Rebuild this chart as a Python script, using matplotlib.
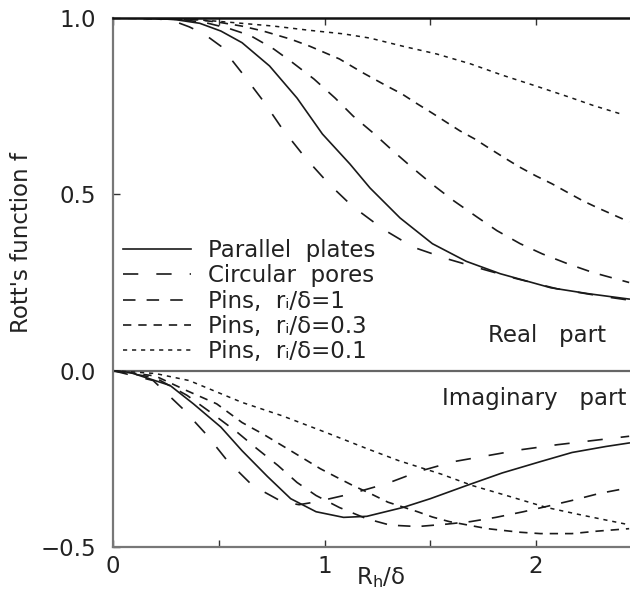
import matplotlib
matplotlib.use('Agg')
import matplotlib.pyplot as plt
from matplotlib.ticker import MultipleLocator, FixedLocator, FixedFormatter

plt.rcParams['font.family'] = ['DejaVu Sans']
plt.rcParams['lines.scale_dashes'] = False
plt.rcParams['axes.unicode_minus'] = True

# ---------------- data ----------------
labels = ["Parallel  plates", "Circular  pores",
          "Pins,  r\u1d62/δ=1", "Pins,  r\u1d62/δ=0.3",
          "Pins,  r\u1d62/δ=0.1"]

# Real parts
plates_re_x = [0.0, 0.2, 0.3, 0.41, 0.51, 0.61, 0.74, 0.87, 0.99, 1.12, 1.215, 1.357,
               1.51, 1.67, 1.83, 2.07, 2.25, 2.44]
plates_re_y = [1.0, 0.999, 0.995, 0.985, 0.963, 0.93, 0.864, 0.773, 0.671, 0.586, 0.518,
               0.433, 0.36, 0.31, 0.275, 0.235, 0.218, 0.203]

circ_re_x = [0.0, 0.2, 0.28, 0.36, 0.43, 0.51, 0.61, 0.71, 0.80, 0.91, 1.02, 1.13, 1.28,
             1.42, 1.58, 1.735, 1.9, 2.1, 2.3, 2.44]
circ_re_y = [1.0, 0.998, 0.993, 0.975, 0.955, 0.92, 0.844, 0.765, 0.686, 0.603, 0.53,
             0.467, 0.40, 0.35, 0.317, 0.29, 0.262, 0.232, 0.212, 0.2]

pins1_re_x = [0.0, 0.3, 0.45, 0.55, 0.65, 0.76, 0.85, 0.95, 1.05, 1.135, 1.23, 1.32, 1.41,
              1.51, 1.61, 1.72, 1.815, 1.925, 2.03, 2.15, 2.27, 2.44]
pins1_re_y = [1.0, 0.998, 0.985, 0.97, 0.95, 0.912, 0.873, 0.827, 0.773, 0.722, 0.674,
              0.625, 0.578, 0.528, 0.482, 0.436, 0.397, 0.36, 0.331, 0.303, 0.278, 0.25]

pins03_re_x = [0.0, 0.4, 0.5, 0.61, 0.71, 0.84, 0.93, 1.07, 1.18, 1.295, 1.365, 1.44,
               1.51, 1.58, 1.64, 1.71, 1.78, 1.86, 1.92, 2.0, 2.075, 2.15, 2.22, 2.29, 2.44]
pins03_re_y = [1.0, 0.995, 0.988, 0.977, 0.963, 0.94, 0.92, 0.884, 0.845, 0.807, 0.785,
               0.756, 0.73, 0.703, 0.68, 0.657, 0.63, 0.60, 0.578, 0.552, 0.53, 0.505,
               0.482, 0.462, 0.422]

pins01_re_x = [0.0, 0.3, 0.55, 0.76, 0.93, 1.09, 1.215, 1.37, 1.53, 1.69, 1.84, 2.0,
               2.16, 2.27, 2.40]
pins01_re_y = [1.0, 1.0, 0.988, 0.977, 0.965, 0.955, 0.943, 0.92, 0.898, 0.87, 0.838,
               0.807, 0.775, 0.752, 0.728]

# Imaginary parts
plates_im_x = [0.0, 0.08, 0.27, 0.38, 0.51, 0.61, 0.73, 0.84, 0.96, 1.09, 1.2, 1.37,
               1.5, 1.67, 1.84, 2.02, 2.17, 2.33, 2.44]
plates_im_y = [0.0, -0.005, -0.042, -0.094, -0.16, -0.227, -0.30, -0.363, -0.40, -0.416,
               -0.413, -0.388, -0.363, -0.326, -0.29, -0.258, -0.232, -0.215, -0.205]

circ_im_x = [0.0, 0.19, 0.33, 0.44, 0.54, 0.66, 0.80, 0.88, 0.96, 1.12, 1.295, 1.45,
             1.61, 1.77, 1.93, 2.10, 2.27, 2.44]
circ_im_y = [0.0, -0.028, -0.108, -0.18, -0.255, -0.326, -0.372, -0.38, -0.372, -0.35,
             -0.32, -0.285, -0.258, -0.241, -0.224, -0.21, -0.198, -0.186]

pins1_im_x = [0.0, 0.2, 0.35, 0.47, 0.59, 0.68, 0.78, 0.87, 0.96, 1.07, 1.2, 1.31, 1.44,
              1.58, 1.69, 1.81, 1.94, 2.05, 2.17, 2.30, 2.44]
pins1_im_y = [0.0, -0.02, -0.07, -0.122, -0.176, -0.221, -0.269, -0.317, -0.354, -0.388,
              -0.42, -0.438, -0.442, -0.435, -0.428, -0.416, -0.40, -0.385, -0.368,
              -0.348, -0.332]

pins03_im_x = [0.0, 0.2, 0.35, 0.49, 0.61, 0.71, 0.84, 0.98, 1.06, 1.135, 1.215, 1.30,
               1.44, 1.51, 1.59, 1.77, 1.92, 2.02, 2.17, 2.29, 2.44]
pins03_im_y = [0.0, -0.015, -0.057, -0.094, -0.147, -0.18, -0.227, -0.278, -0.303,
               -0.326, -0.348, -0.373, -0.40, -0.415, -0.428, -0.448, -0.458, -0.462,
               -0.462, -0.455, -0.448]

pins01_im_x = [0.0, 0.2, 0.36, 0.61, 0.80, 1.01, 1.2, 1.35, 1.55, 1.70, 1.86, 2.05,
               2.22, 2.44]
pins01_im_y = [0.0, -0.008, -0.028, -0.09, -0.128, -0.176, -0.221, -0.255, -0.293,
               -0.326, -0.354, -0.388, -0.41, -0.437]

x_ticks = [0, 1, 2]
x_ticklabels = ["0", "1", "2"]
y_ticks = [-0.5, 0.0, 0.5, 1.0]
y_ticklabels = ["\u22120.5", "0.0", "0.5", "1.0"]

# ---------------- styles ----------------
col = '#1a1a1a'
styles = [
    dict(ls='-', lw=1.2),
    dict(ls=(0, (11, 13)), lw=1.2),
    dict(ls=(0, (9, 8)), lw=1.2),
    dict(ls=(0, (6, 5)), lw=1.2),
    dict(ls=(0, (3, 3.5)), lw=1.1),
]

re_series = [(plates_re_x, plates_re_y), (circ_re_x, circ_re_y), (pins1_re_x, pins1_re_y),
             (pins03_re_x, pins03_re_y), (pins01_re_x, pins01_re_y)]
im_series = [(plates_im_x, plates_im_y), (circ_im_x, circ_im_y), (pins1_im_x, pins1_im_y),
             (pins03_im_x, pins03_im_y), (pins01_im_x, pins01_im_y)]

fig = plt.figure(figsize=(6.3, 5.96), dpi=100)
L, R, T, B = 113, 630, 18, 547
ax = fig.add_axes([L / 630, 1 - B / 596, (R - L) / 630, (B - T) / 596])
ax.set_xlim(0, 2.444)
ax.set_ylim(-0.5, 1.0)

handles = []
for (xs, ys), st, lab in zip(re_series, styles, labels):
    h, = ax.plot(xs, ys, color=col, label=lab, **st)
    handles.append(h)
for (xs, ys), st in zip(im_series, styles):
    ax.plot(xs, ys, color=col, **st)

ax.axhline(0, color='#666666', lw=1.6, zorder=1)

for s in ['left', 'bottom']:
    ax.spines[s].set_color('#777777')
    ax.spines[s].set_linewidth(1.6)
ax.spines['top'].set_color('#111111')
ax.spines['top'].set_linewidth(1.8)
ax.spines['right'].set_visible(False)

ax.xaxis.set_major_locator(FixedLocator(x_ticks))
ax.xaxis.set_major_formatter(FixedFormatter(x_ticklabels))
ax.xaxis.set_minor_locator(MultipleLocator(0.5))
ax.yaxis.set_major_locator(FixedLocator(y_ticks))
ax.yaxis.set_major_formatter(FixedFormatter(y_ticklabels))
ax.tick_params(which='both', direction='in', top=True, right=False, length=5,
               width=1.0, color='#333333')
ax.tick_params(axis='both', which='major', labelsize=16.5, labelcolor='#222222')
ax.tick_params(axis='x', which='major', pad=6)
ax.tick_params(axis='y', which='major', pad=12)

fs_leg = 16.5
leg = ax.legend(handles=handles, loc='upper left',
                bbox_to_anchor=((123 - L) / (R - L), (B - 239) / (B - T)),
                frameon=False, fontsize=fs_leg, borderpad=0, borderaxespad=0,
                handlelength=2.95, handletextpad=0.75, labelspacing=0.1)
for t in leg.get_texts():
    t.set_color('#222222')

ax.text(2.05, 0.099, 'Real   part', fontsize=16.5, ha='center', va='center',
        color='#222222')
ax.text(2.425, -0.079, 'Imaginary   part', fontsize=16.5, ha='right', va='center',
        color='#222222')

fig.text(381 / 630, 1 - 578 / 596, 'R$_\\mathrm{h}$/δ', fontsize=16.5, ha='center',
         va='center', color='#222222')
fig.text(22 / 630, 1 - 243 / 596, "Rott's function f", fontsize=16.5, rotation=90,
         ha='center', va='center', color='#222222')

fig.savefig('out.png', dpi=100)
